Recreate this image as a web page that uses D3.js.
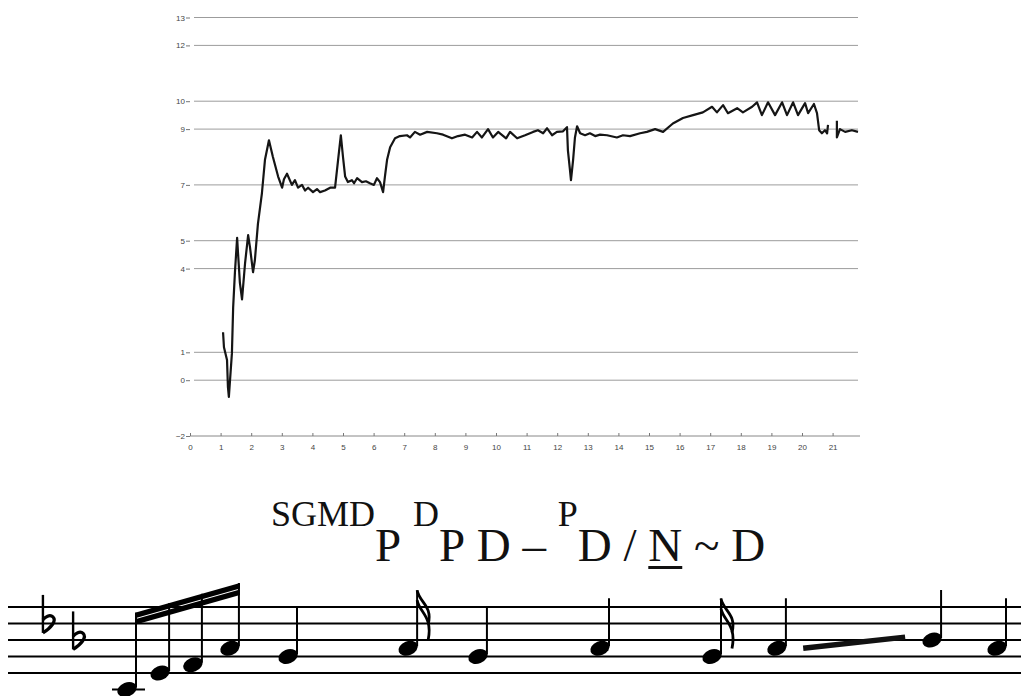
<!DOCTYPE html>
<html>
<head>
<meta charset="utf-8">
<script src="https://cdnjs.cloudflare.com/ajax/libs/d3/7.8.5/d3.min.js"></script>
<style>
  body { margin: 0; background: #fff; }
  svg { display: block; }
</style>
</head>
<body>
<div id="chart"></div>
<script>

// pitch contour (semitones over seconds), null = break in the trace
var yTicks = [-2, 0, 1, 4, 5, 7, 9, 10, 12, 13]
var xTicks = [0, 1, 2, 3, 4, 5, 6, 7, 8, 9, 10, 11, 12, 13, 14, 15, 16, 17, 18, 19, 20, 21]

var pitchTimes = [1.08, 1.11, 1.21, 1.24, 1.27, 1.37, 1.41, 1.47, 1.54, 1.57, 1.63, 1.70, 1.80, 1.90, 1.96, 2.06, 2.12, 2.22, 2.35, 2.45,
  2.58, 2.71, 2.88, 3.01, 3.07, 3.17, 3.33, 3.43, 3.53, 3.66, 3.76, 3.86, 4.02, 4.15, 4.25, 4.41, 4.58, 4.74, 4.84, 4.93,
  5.00, 5.07, 5.16, 5.29, 5.36, 5.46, 5.62, 5.75, 5.88, 6.01, 6.11, 6.21, 6.31, 6.37, 6.44, 6.54, 6.70, 6.86, 7.09, 7.19,
  7.35, 7.52, 7.75, 8.07, 8.27, 8.56, 8.76, 8.99, 9.22, 9.38, 9.54, 9.74, 9.90, 10.07, 10.33, 10.46, 10.69, 10.95, 11.21, 11.37,
  11.54, 11.67, 11.83, 11.99, 12.19, 12.32, 12.35, 12.42, 12.45, 12.52, 12.58, 12.65, 12.75, 12.91, 13.07, 13.24, 13.40, 13.63, 13.95, 14.15,
  14.38, 14.71, 14.93, 15.20, 15.46, 15.78, 16.11, 16.44, 16.76, 17.06, 17.22, 17.42, 17.58, 17.88, 18.07, 18.37, 18.53, 18.69, 18.89, 19.12,
  19.35, 19.51, 19.71, 19.87, 20.10, 20.20, 20.39, 20.49, 20.56, 20.65, 20.75, 20.82, 20.85, 21.00, 21.14, 21.14, 21.24, 21.41, 21.63, 21.83]
var pitchValues = [1.72, 1.18, 0.72, -0.25, -0.6, 0.97, 2.6, 3.9, 5.1, 4.55, 3.5, 2.9, 4.2, 5.2, 4.77, 3.87, 4.3, 5.6, 6.7, 7.9,
  8.6, 8.0, 7.3, 6.9, 7.2, 7.4, 7.0, 7.17, 6.9, 7.0, 6.8, 6.9, 6.74, 6.85, 6.74, 6.8, 6.9, 6.9, 7.9, 8.78,
  8.0, 7.3, 7.1, 7.17, 7.06, 7.24, 7.1, 7.13, 7.06, 7.0, 7.24, 7.1, 6.74, 7.3, 7.9, 8.35, 8.67, 8.75, 8.78, 8.7,
  8.9, 8.8, 8.9, 8.85, 8.8, 8.67, 8.75, 8.8, 8.7, 8.9, 8.7, 9.0, 8.7, 8.9, 8.67, 8.9, 8.67, 8.78, 8.9, 8.96,
  8.85, 9.03, 8.78, 8.9, 8.92, 9.07, 8.24, 7.5, 7.17, 7.9, 8.7, 9.1, 8.85, 8.78, 8.85, 8.75, 8.8, 8.78, 8.7, 8.78,
  8.75, 8.85, 8.9, 9.0, 8.9, 9.2, 9.4, 9.5, 9.6, 9.8, 9.6, 9.86, 9.57, 9.75, 9.6, 9.8, 9.96, 9.5, 9.96, 9.5,
  9.96, 9.5, 9.96, 9.5, 9.93, 9.57, 9.9, 9.57, 8.96, 8.85, 8.96, 8.85, 9.15, null, 9.3, 8.7, 9.0, 8.9, 8.96, 8.9]

// transcription line, "sup" = raised small letters
var labelParts = [
  {t: 'SGMD', sup: true}, {t: 'P', sup: false}, {t: '\u00a0', sup: false}, {t: 'D', sup: true},
  {t: 'P\u00a0D\u00a0\u2013\u00a0', sup: false}, {t: 'P', sup: true}, {t: 'D\u00a0/\u00a0', sup: false},
  {t: 'N', sup: false, under: true}, {t: '\u00a0~\u00a0D', sup: false}
]

// staff notation: onset units along the staff, pitch in staff steps (0 = bottom line)
var keySigOnsets = [-2.59, -1.66]
var keySigSteps = [5.95, 3.95]
var noteOnsets = [0, 1.02, 2.03, 3.17, 4.96, 8.66, 10.81, 14.57, 18.02, 20.02, 24.8, 26.8]
var noteSteps = [-2, 0, 1, 3, 2, 3, 2, 3, 2, 3, 4, 3]
var noteKinds = ['beam', 'beam', 'beam', 'beam', 'q', '16', 'q', 'q', '16', 'q', 'q', 'q']
var beamSteps = [7.3, 10.9]
var glissOnsets = [20.83, 23.97]
var glissSteps = [3.0, 4.35]

var W = 1021, H = 696

var svg = d3.select('#chart')
  .append('svg')
  .attr('width', W)
  .attr('height', H)

var x = d3.scaleLinear().domain([0, 21]).range([190, 832.6])
var y = d3.scaleLinear().domain([-2, 13]).range([436, 17.5])

// grid lines
svg.selectAll('.grid')
  .data(yTicks.filter(function(d) { return d != -2 }))
  .enter().append('line')
  .attr('class', 'grid')
  .attr('x1', x(0) + 4)
  .attr('x2', 858)
  .attr('y1', function(d) { return y(d) })
  .attr('y2', function(d) { return y(d) })
  .attr('stroke', '#9c9c9c')
  .attr('stroke-width', 1)

// bottom line
svg.append('line')
  .attr('x1', x(0))
  .attr('x2', 860)
  .attr('y1', y(-2))
  .attr('y2', y(-2))
  .attr('stroke', '#888')
  .attr('stroke-width', 1)

var yAxis = svg.append('g')
  .attr('transform', 'translate(' + x(0) + ',0)')
  .call(d3.axisLeft(y).tickValues(yTicks).tickSize(4).tickPadding(1))
yAxis.select('.domain').remove()

var xAxis = svg.append('g')
  .attr('transform', 'translate(0,' + y(-2) + ')')
  .call(d3.axisBottom(x).tickValues(xTicks).tickSize(-3).tickPadding(8))
xAxis.select('.domain').remove()

svg.selectAll('.tick line').attr('stroke', '#777')
svg.selectAll('.tick text')
  .attr('fill', '#444')
  .style('font-family', "'Liberation Sans'")
  .style('font-size', '8px')

// contour
var pitch = d3.zip(pitchTimes, pitchValues)
var line = d3.line()
  .defined(function(d) { return d[1] != null })
  .x(function(d) { return x(d[0]) })
  .y(function(d) { return y(d[1]) })

svg.append('path')
  .datum(pitch)
  .attr('d', line)
  .attr('fill', 'none')
  .attr('stroke', '#151515')
  .attr('stroke-width', 2.2)
  .attr('stroke-linejoin', 'round')

// transcription
var bigSize = 47, smallSize = 36
var baseY = 561, supY = 526
var label = svg.append('text')
  .attr('x', 271)
  .attr('y', baseY)
  .attr('fill', '#111')
  .style('font-family', "'Liberation Serif'")

labelParts.forEach(function(p) {
  label.append('tspan')
    .attr('y', p.sup ? supY : baseY)
    .attr('class', p.under ? 'under' : null)
    .style('font-family', "'Liberation Serif'")
    .style('font-size', (p.sup ? smallSize : bigSize) + 'px')
    .text(p.t)
})

var nSpan = label.select('.under').node()
var nStart = nSpan.getStartPositionOfChar(0).x
var nEnd = nStart + nSpan.getComputedTextLength()
svg.append('rect')
  .attr('x', nStart)
  .attr('y', baseY + 5)
  .attr('width', nEnd - nStart)
  .attr('height', 3)
  .attr('fill', '#111')

// staff
var xs = d3.scaleLinear().domain([0, 26.8]).range([127, 997])
var ys = d3.scaleLinear().domain([0, 8]).range([673, 607])

svg.selectAll('.staff')
  .data([0, 2, 4, 6, 8])
  .enter().append('line')
  .attr('x1', 8)
  .attr('x2', W)
  .attr('y1', function(d) { return ys(d) })
  .attr('y2', function(d) { return ys(d) })
  .attr('stroke', '#000')
  .attr('stroke-width', 2.2)

// key signature flats
keySigOnsets.forEach(function(o, i) {
  var fx = xs(o), fy = ys(keySigSteps[i])
  svg.append('line')
    .attr('x1', fx).attr('x2', fx)
    .attr('y1', fy - 29).attr('y2', fy + 9)
    .attr('stroke', '#000').attr('stroke-width', 2.4)
  svg.append('path')
    .attr('d', 'M' + fx + ',' + (fy + 9) + ' C' + (fx + 8) + ',' + (fy + 4) + ' ' + (fx + 14) + ',' + (fy - 3) + ' ' + (fx + 10) + ',' + (fy - 7) +
      ' C' + (fx + 7) + ',' + (fy - 10) + ' ' + (fx + 2) + ',' + (fy - 7) + ' ' + fx + ',' + (fy - 4))
    .attr('fill', 'none').attr('stroke', '#000').attr('stroke-width', 3.2)
})

// ledger line for the low note
noteSteps.forEach(function(s, i) {
  if (s <= -2) {
    svg.append('line')
      .attr('x1', xs(noteOnsets[i]) - 15).attr('x2', xs(noteOnsets[i]) + 18)
      .attr('y1', ys(-2)).attr('y2', ys(-2))
      .attr('stroke', '#000').attr('stroke-width', 2)
  }
})

var beamIdx = noteKinds.map(function(k, i) { return k == 'beam' ? i : -1 }).filter(function(i) { return i >= 0 })
var b0 = xs(noteOnsets[beamIdx[0]]) + 9
var b1 = xs(noteOnsets[beamIdx[beamIdx.length - 1]]) + 9
var beamY = d3.scaleLinear().domain([b0, b1]).range([ys(beamSteps[0]), ys(beamSteps[1])])

noteOnsets.forEach(function(o, i) {
  var hx = xs(o), hy = ys(noteSteps[i])
  var sx = hx + 9
  var top = noteKinds[i] == 'beam' ? beamY(sx) : (noteKinds[i] == '16' ? hy - 58 : hy - 50)
  svg.append('ellipse')
    .attr('cx', hx).attr('cy', hy)
    .attr('rx', 10).attr('ry', 7)
    .attr('transform', 'rotate(-22,' + hx + ',' + hy + ')')
    .attr('fill', '#000')
  svg.append('line')
    .attr('x1', sx).attr('x2', sx)
    .attr('y1', hy - 2).attr('y2', top)
    .attr('stroke', '#000').attr('stroke-width', 2)
  if (noteKinds[i] == '16') {
    [0, 10].forEach(function(off) {
      svg.append('path')
        .attr('d', 'M' + sx + ',' + (top + off) + ' C' + (sx + 2) + ',' + (top + off + 12) + ' ' + (sx + 16) + ',' + (top + off + 16) + ' ' + (sx + 11) + ',' + (top + off + 34 + off * 0.6))
        .attr('fill', 'none').attr('stroke', '#000').attr('stroke-width', 2.8)
    })
  }
})

// double beam
;[0, 6.5].forEach(function(off) {
  svg.append('path')
    .attr('d', 'M' + (b0 - 1) + ',' + (beamY(b0) + off) + ' L' + (b1 + 1) + ',' + (beamY(b1) + off) +
      ' L' + (b1 + 1) + ',' + (beamY(b1) + off + 5.5) + ' L' + (b0 - 1) + ',' + (beamY(b0) + off + 5.5) + ' Z')
    .attr('fill', '#000')
})

// glissando bar
svg.append('line')
  .attr('x1', xs(glissOnsets[0])).attr('x2', xs(glissOnsets[1]))
  .attr('y1', ys(glissSteps[0])).attr('y2', ys(glissSteps[1]))
  .attr('stroke', '#111').attr('stroke-width', 5.5)

</script>
</body>
</html>
